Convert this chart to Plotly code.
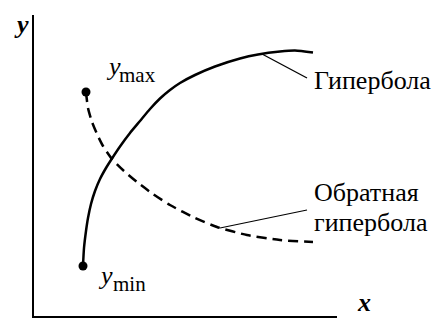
import plotly.graph_objects as go

W, H = 444, 320
PAGE_MARGIN = 8  # browser default body margin

# Axes (origin and ends)
axis_x = [33, 33, 337]
axis_y = [305, 3, 3]

# "Гипербола" curve (solid)
hyp_x = [83, 84, 86, 88, 91, 95, 100, 106, 112, 120, 130, 140, 150, 160, 170, 180, 195, 215, 240, 258, 280, 295, 313]
hyp_y = [54, 72, 89, 102, 116, 129, 141, 152, 161.5, 173.5, 187, 199, 211, 221.5, 230, 237, 245, 253.5, 261.5,
         265.5, 268.5, 269.5, 267.5]

# "Обратная гипербола" curve (dashed)
inv_x = [86, 88, 92, 97, 103, 112, 124, 137, 153, 170, 195, 217, 247, 280, 313]
inv_y = [228, 212, 198, 186, 174, 161, 149, 138, 126, 115, 102, 93, 85, 80, 78]

# end points y_min / y_max
pt_x = [83, 86]
pt_y = [54, 228]

# leader lines
lead1_x = [262, 307]
lead1_y = [266, 242]
lead2_x = [220, 307]
lead2_y = [92, 110]

fig = go.Figure()
fig.add_trace(go.Scatter(x=axis_x, y=axis_y, mode="lines",
                         line=dict(color="black", width=2), hoverinfo="skip"))
fig.add_trace(go.Scatter(x=hyp_x, y=hyp_y, mode="lines",
                         line=dict(color="black", width=2.5, shape="spline", smoothing=0.6),
                         hoverinfo="skip"))
fig.add_trace(go.Scatter(x=inv_x, y=inv_y, mode="lines",
                         line=dict(color="black", width=2.5, dash="10px,6px", shape="spline", smoothing=0.6),
                         hoverinfo="skip"))
fig.add_trace(go.Scatter(x=pt_x, y=pt_y, mode="markers",
                         marker=dict(color="black", size=9), hoverinfo="skip"))
for lx, ly in [(lead1_x, lead1_y), (lead2_x, lead2_y)]:
    fig.add_trace(go.Scatter(x=lx, y=ly, mode="lines",
                             line=dict(color="black", width=1.2), hoverinfo="skip"))

serif = "Liberation Serif"

def ann(x, y, text, size, xanchor="left"):
    fig.add_annotation(x=x, y=y, text=text, showarrow=False, xanchor=xanchor, yanchor="middle",
                       font=dict(family=serif, size=size, color="black"))

ann(12, 296, "<b><i>y</i></b>", 26)
ann(355, 18, "<b><i>x</i></b>", 26)
ann(104, 254, "<i>y</i>", 26)
ann(117, 245, "max", 21)
ann(96, 45, "<i>y</i>", 26)
ann(111, 36, "min", 21)
ann(312, 240, "Гипербола", 26)
ann(312, 128, "Обратная", 26)
ann(312, 98, "гипербола", 26)

fig.update_layout(
    width=W, height=H, margin=dict(l=0, r=0, t=0, b=0),
    paper_bgcolor="white", plot_bgcolor="white", showlegend=False,
    xaxis=dict(range=[PAGE_MARGIN, W + PAGE_MARGIN], visible=False, fixedrange=True),
    yaxis=dict(range=[-PAGE_MARGIN, H - PAGE_MARGIN], visible=False, fixedrange=True),
)
fig.write_html("out.html")
